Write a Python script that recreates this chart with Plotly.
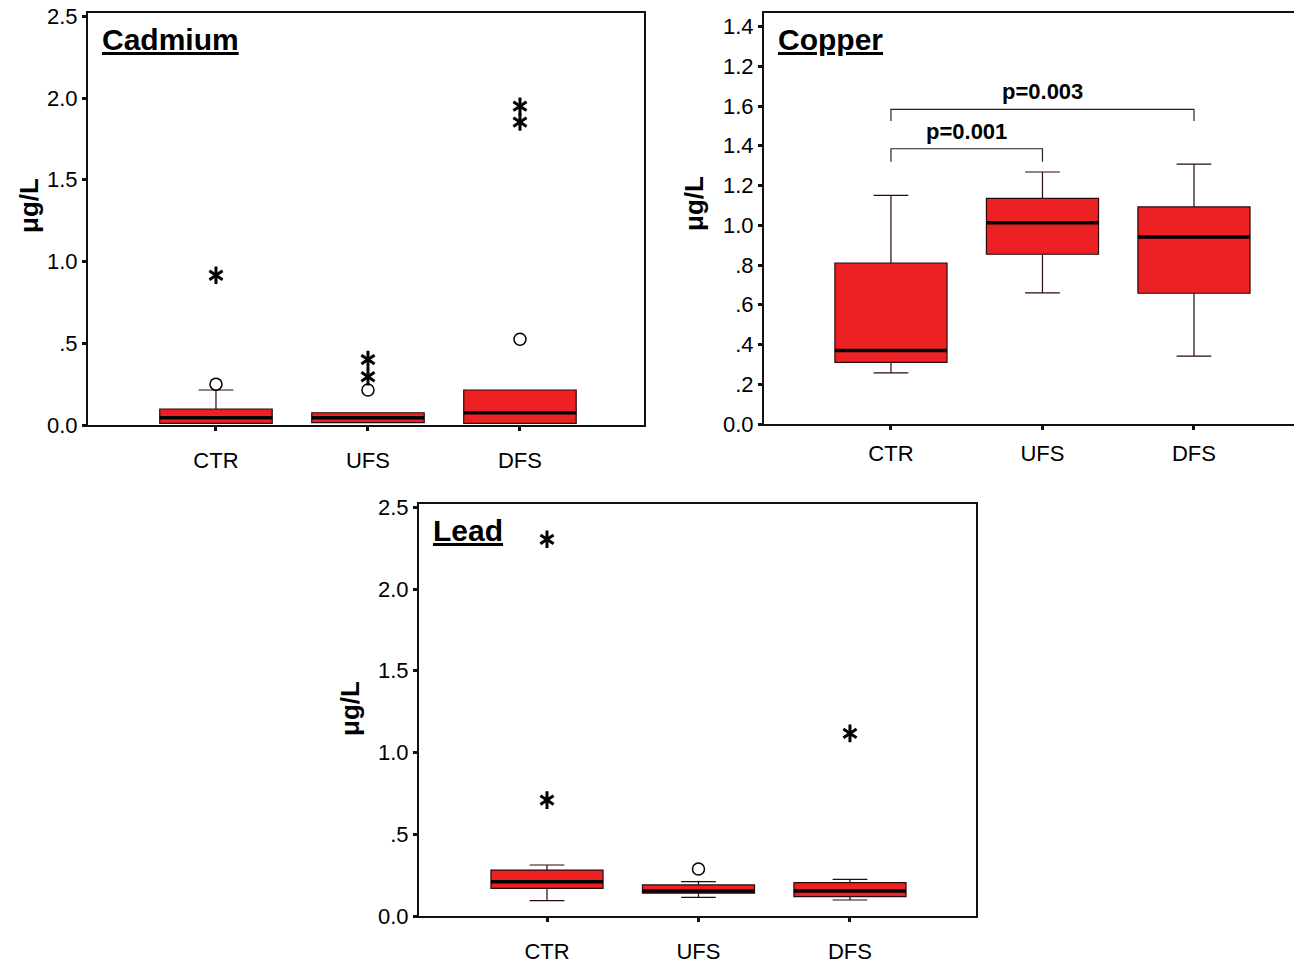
import plotly.graph_objects as go

# ---------------- data ----------------
cats = ["CTR", "UFS", "DFS"]
pos = [0, 1, 2]

# Cadmium
cd_q1 = [0.010, 0.014, 0.010]
cd_med = [0.045, 0.045, 0.075]
cd_q3 = [0.098, 0.075, 0.214]
cd_lo = [0.010, 0.014, 0.010]
cd_hi = [0.214, 0.075, 0.214]
cd_mild_grp = [0, 1, 2]
cd_mild_val = [0.250, 0.214, 0.525]
cd_ext_grp = [0, 1, 1, 2, 2]
cd_ext_val = [0.916, 0.400, 0.295, 1.950, 1.853]

# Copper
cu_q1 = [0.310, 0.854, 0.658]
cu_med = [0.370, 1.013, 0.941]
cu_q3 = [0.810, 1.135, 1.092]
cu_lo = [0.257, 0.660, 0.342]
cu_hi = [1.150, 1.268, 1.308]
cu_tickvals = [0.0, 0.2, 0.4, 0.6, 0.8, 1.0, 1.2, 1.4, 1.6, 1.8, 2.0]
cu_ticktext = ["0.0", ".2", ".4", ".6", ".8", "1.0", "1.2", "1.4", "1.6", "1.2", "1.4"]
cu_br_from = [0, 0]
cu_br_to = [1, 2]
cu_br_top = [1.385, 1.583]
cu_br_leg = [1.320, 1.525]
cu_br_text = ["p=0.001", "p=0.003"]

# Lead
pb_q1 = [0.169, 0.139, 0.118]
pb_med = [0.210, 0.153, 0.153]
pb_q3 = [0.281, 0.190, 0.204]
pb_lo = [0.094, 0.114, 0.098]
pb_hi = [0.312, 0.210, 0.224]
pb_mild_grp = [1]
pb_mild_val = [0.287]
pb_ext_grp = [0, 0, 2]
pb_ext_val = [2.304, 0.709, 1.117]

ab_ticks = [0, 0.5, 1.0, 1.5, 2.0, 2.5]
ab_ticktext = ["0.0", ".5", "1.0", "1.5", "2.0", "2.5"]

# --------------- style ----------------
FONT = "Liberation Sans, Arial, sans-serif"
RED = "#ED2024"
OUT = "#2a0a0a"
BOXW = 0.74
fig = go.Figure()


def add_panel(ax, q1, med, q3, lo, hi, mild_g=None, mild_v=None, ext_g=None, ext_v=None):
    xa = "x" + ("" if ax == 1 else str(ax))
    ya = "y" + ("" if ax == 1 else str(ax))
    fig.add_trace(go.Box(
        x=pos, q1=q1, median=med, q3=q3, lowerfence=lo, upperfence=hi,
        width=BOXW, whiskerwidth=0.31, fillcolor=RED,
        line=dict(color=OUT, width=1.2), xaxis=xa, yaxis=ya,
        showlegend=False, hoverinfo="skip"))
    mx, my = [], []
    for p, m in zip(pos, med):
        mx += [p - BOXW / 2, p + BOXW / 2, None]
        my += [m, m, None]
    fig.add_trace(go.Scatter(x=mx, y=my, mode="lines",
                             line=dict(color="black", width=3.5),
                             xaxis=xa, yaxis=ya, showlegend=False, hoverinfo="skip"))
    if mild_g:
        fig.add_trace(go.Scatter(
            x=[pos[g] for g in mild_g], y=mild_v, mode="markers",
            marker=dict(symbol="circle-open", size=12, color="black", line=dict(width=1.5)),
            xaxis=xa, yaxis=ya, showlegend=False, hoverinfo="skip"))
    if ext_g:
        # extreme values drawn as a six-armed asterisk (two overlaid "Y" marks)
        for sym in ("y-up-open", "y-down-open"):
            fig.add_trace(go.Scatter(
                x=[pos[g] for g in ext_g], y=ext_v, mode="markers",
                marker=dict(symbol=sym, size=11, color="black",
                            line=dict(width=3, color="black")),
                xaxis=xa, yaxis=ya, showlegend=False, hoverinfo="skip"))


add_panel(1, cd_q1, cd_med, cd_q3, cd_lo, cd_hi, cd_mild_grp, cd_mild_val, cd_ext_grp, cd_ext_val)
add_panel(2, cu_q1, cu_med, cu_q3, cu_lo, cu_hi)
add_panel(3, pb_q1, pb_med, pb_q3, pb_lo, pb_hi, pb_mild_grp, pb_mild_val, pb_ext_grp, pb_ext_val)

# copper brackets
for a, b, t, l in zip(cu_br_from, cu_br_to, cu_br_top, cu_br_leg):
    fig.add_trace(go.Scatter(x=[pos[a], pos[a], pos[b], pos[b]],
                             y=[l, t, t, l], mode="lines",
                             line=dict(color="#222", width=1.2),
                             xaxis="x2", yaxis="y2", showlegend=False, hoverinfo="skip"))

# page body has an 8px margin: draw in a figure shifted/shrunk by it
OFF = 8
W, H = 1302 - OFF, 965 - OFF


def xdom(l, r):
    return [(l - OFF) / W, min(1.0, (r - OFF) / W)]


def ydom(b, t):
    return [1 - (b - OFF) / H, 1 - (t - OFF) / H]


tickfont = dict(family=FONT, size=22, color="black")


def xax(dom, rng, anchor, standoff, mirror=True):
    return dict(domain=dom, range=rng, anchor=anchor, tickvals=pos, ticktext=cats,
                showline=True, linecolor="#111", linewidth=2, mirror=mirror,
                ticks="outside", ticklen=4, tickwidth=3, tickcolor="#111",
                tickfont=tickfont, ticklabelstandoff=standoff, showgrid=False, zeroline=False,
                fixedrange=True, automargin=False)


def yax(dom, rng, anchor, tv, tt, mirror=True):
    return dict(domain=dom, range=rng, anchor=anchor, tickvals=tv, ticktext=tt,
                showline=True, linecolor="#111", linewidth=2, mirror=mirror,
                ticks="outside", ticklen=4, tickwidth=3, tickcolor="#111",
                tickfont=tickfont, ticklabelstandoff=0, ticklabeloverflow="allow",
                showgrid=False, zeroline=False, fixedrange=True, automargin=False)


fig.update_layout(
    template="none",
    width=W, height=H, margin=dict(l=0, r=0, t=0, b=0, pad=0, autoexpand=False),
    paper_bgcolor="white", plot_bgcolor="white",
    font=dict(family=FONT, color="black"),
    xaxis=xax(xdom(88, 644), [-0.842, 2.816], "y", 11),
    yaxis=yax(ydom(425, 13), [0, 2.52], "x", ab_ticks, ab_ticktext),
    xaxis2=xax(xdom(764, 1302), [-0.838, 2.713], "y2", 5),
    yaxis2=yax(ydom(424, 13), [0, 2.068], "x2", cu_tickvals, cu_ticktext, mirror=False),
    xaxis3=xax(xdom(419, 976), [-0.845, 2.832], "y3", 11),
    yaxis3=yax(ydom(916, 504), [0, 2.52], "x3", ab_ticks, ab_ticktext),
)

# panel titles
titles = [("Cadmium", "x", "y"), ("Copper", "x2", "y2"), ("Lead", "x3", "y3")]
for name, xa, ya in titles:
    fig.add_annotation(text="<b><u>%s</u></b>" % name, xref=xa + " domain", yref=ya + " domain",
                       x=0, y=1, xanchor="left", yanchor="top", xshift=12, yshift=-8,
                       showarrow=False, font=dict(family=FONT, size=30, color="black"))

# y-axis titles
for px, py in [(29, 206), (694, 204), (350, 709)]:
    fig.add_annotation(text="<b>μg/L</b>", xref="paper", yref="paper",
                       x=(px - OFF) / W, y=1 - (py - OFF) / H,
                       textangle=-90, showarrow=False, xanchor="center", yanchor="middle",
                       font=dict(family=FONT, size=26, color="black"))

# p-values
for a, b, t, txt in zip(cu_br_from, cu_br_to, cu_br_top, cu_br_text):
    fig.add_annotation(text="<b>%s</b>" % txt, xref="x2", yref="y2", x=(pos[a] + pos[b]) / 2, y=t,
                       xanchor="center", yanchor="bottom", yshift=3, showarrow=False,
                       font=dict(family=FONT, size=22, color="black"))

fig.write_html("out.html")
